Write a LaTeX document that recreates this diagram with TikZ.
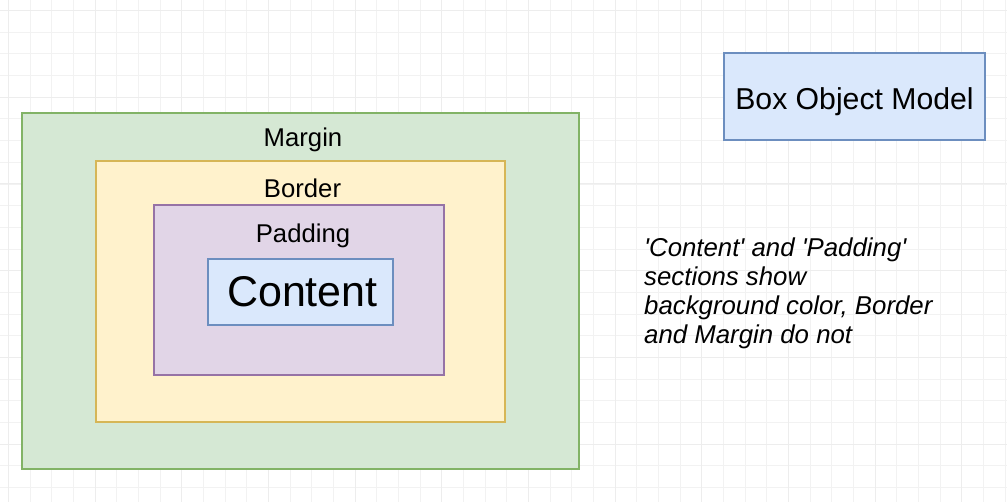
\documentclass[tikz,border=0pt]{standalone}
\usepackage{fontspec}
\setmainfont{Liberation Sans}
\begin{document}
\begin{tikzpicture}[x=1pt,y=-1pt,
  minorgrid/.style={draw=black!5, line width=1pt},
  majorgrid/.style={draw=black!7, line width=1pt},
  boxstyle/.style={line width=1.8pt, inner sep=0pt, outer sep=0pt, anchor=north west},
  labeltxt/.style={inner sep=0pt, anchor=base, font=\fontsize{25.7}{30}\selectfont},
  note/.style={inner sep=0pt, anchor=base west, font=\fontsize{25.8}{29}\selectfont\itshape}]
\definecolor{gfill}{HTML}{D5E8D4}\definecolor{gline}{HTML}{82B366}
\definecolor{yfill}{HTML}{FFF2CC}\definecolor{yline}{HTML}{D6B656}
\definecolor{pfill}{HTML}{E1D5E7}\definecolor{pline}{HTML}{9673A6}
\definecolor{bfill}{HTML}{DAE8FC}\definecolor{bline}{HTML}{6C8EBF}
\useasboundingbox[fill=white] (0,0) rectangle (1007,502);
% grid
\foreach \i in {0,...,46}{
  \pgfmathsetmacro\gx{8.333+21.667*\i}
  \draw[minorgrid] (\gx,0) -- (\gx,502);
}
\foreach \i in {0,...,23}{
  \pgfmathsetmacro\gy{10.667+21.667*\i}
  \draw[minorgrid] (0,\gy) -- (1007,\gy);
}
\foreach \i in {0,...,11}{
  \pgfmathsetmacro\gx{8.333+86.667*\i}
  \draw[majorgrid] (\gx,0) -- (\gx,502);
}
\foreach \i in {0,...,5}{
  \pgfmathsetmacro\gy{10.667+86.667*\i}
  \draw[majorgrid] (0,\gy) -- (1007,\gy);
}
% boxes
\node[boxstyle, draw=gline, fill=gfill, minimum width=557pt, minimum height=356pt] (margin) at (22,113) {};
\node[boxstyle, draw=yline, fill=yfill, minimum width=409pt, minimum height=261pt] (border) at (96,161) {};
\node[boxstyle, draw=pline, fill=pfill, minimum width=290pt, minimum height=170pt] (padding) at (154,205) {};
\node[boxstyle, draw=bline, fill=bfill, minimum width=185pt, minimum height=66pt] (content) at (208,259) {};
\node[boxstyle, draw=bline, fill=bfill, minimum width=261pt, minimum height=87pt] (bom) at (724,53) {};
% labels
\node[labeltxt] (marginlbl) at (303,146.7) {Margin};
\node[labeltxt] (borderlbl) at (302.5,197.3) {Border};
\node[labeltxt] (paddinglbl) at (303,242.7) {Padding};
\node[inner sep=0pt, anchor=base, font=\fontsize{43}{48}\selectfont] (contentlbl) at (302.4,306.7) {Content};
\node[inner sep=0pt, anchor=base, font=\fontsize{30.2}{34}\selectfont] (bomlbl) at (854.5,110) {Box Object Model};
% note
\node[note] (n1) at (644,256.7) {\textquotesingle Content\textquotesingle{} and \textquotesingle Padding\textquotesingle};
\node[note] (n2) at (644,286) {sections show};
\node[note] (n3) at (644,315) {background color, Border};
\node[note] (n4) at (644,344) {and Margin do not};
\end{tikzpicture}
\end{document}
